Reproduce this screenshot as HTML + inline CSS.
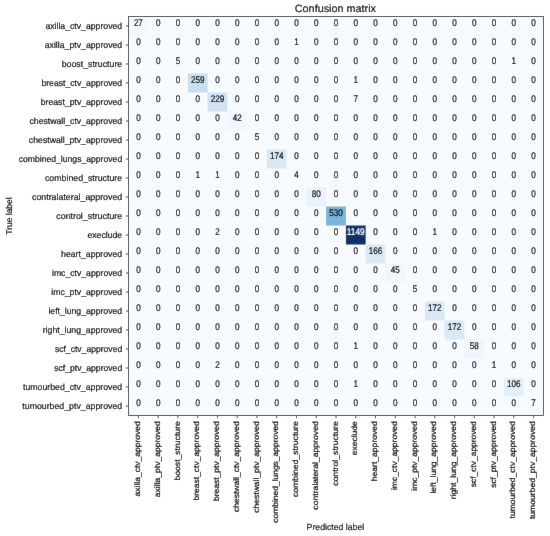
<!DOCTYPE html><html><head><meta charset="utf-8"><style>html,body{margin:0;padding:0;background:#fff;width:550px;height:536px;overflow:hidden}svg{display:block}text{font-family:"Liberation Sans",sans-serif;text-rendering:geometricPrecision}</style></head><body>
<svg width="550" height="536" viewBox="0 0 550 536">
<defs><filter id="bl" x="0" y="0" width="550" height="536" filterUnits="userSpaceOnUse"><feConvolveMatrix order="3" kernelMatrix="0.00163 0.03713 0.00163 0.03713 0.84497 0.03713 0.00163 0.03713 0.00163" edgeMode="duplicate" preserveAlpha="true"/></filter></defs>
<g filter="url(#bl)">
<rect width="550" height="536" fill="#fff"/>
<rect x="128.50" y="16.50" width="415.00" height="399.00" fill="#f7fbff"/>
<rect x="128.50" y="16.50" width="19.78" height="19.02" fill="#f2f8fd"/>
<rect x="168.02" y="54.50" width="19.78" height="19.02" fill="#f6faff"/>
<rect x="187.79" y="73.50" width="19.78" height="19.02" fill="#cbdef1"/>
<rect x="207.55" y="92.50" width="19.78" height="19.02" fill="#d0e1f2"/>
<rect x="345.88" y="92.50" width="19.78" height="19.02" fill="#f6faff"/>
<rect x="227.31" y="111.50" width="19.78" height="19.02" fill="#f0f6fd"/>
<rect x="247.07" y="130.50" width="19.78" height="19.02" fill="#f6faff"/>
<rect x="266.83" y="149.50" width="19.78" height="19.02" fill="#d9e8f5"/>
<rect x="306.36" y="187.50" width="19.78" height="19.02" fill="#eaf2fb"/>
<rect x="326.12" y="206.50" width="19.78" height="19.02" fill="#7ab6d9"/>
<rect x="345.88" y="225.50" width="19.78" height="19.02" fill="#08306b"/>
<rect x="365.64" y="244.50" width="19.78" height="19.02" fill="#dbe9f6"/>
<rect x="385.40" y="263.50" width="19.78" height="19.02" fill="#eff6fc"/>
<rect x="405.17" y="282.50" width="19.78" height="19.02" fill="#f6faff"/>
<rect x="424.93" y="301.50" width="19.78" height="19.02" fill="#d9e8f5"/>
<rect x="444.69" y="320.50" width="19.78" height="19.02" fill="#d9e8f5"/>
<rect x="464.45" y="339.50" width="19.78" height="19.02" fill="#eef5fc"/>
<rect x="503.98" y="377.50" width="19.78" height="19.02" fill="#e5eff9"/>
<rect x="523.74" y="396.50" width="19.78" height="19.02" fill="#f6faff"/>
<g font-size="9.70" text-anchor="middle" fill="#000" stroke="#000" stroke-width="0.20">
<text x="138.38" y="25.70" textLength="9.00" lengthAdjust="spacingAndGlyphs">27</text>
<text x="158.14" y="25.70" textLength="4.50" lengthAdjust="spacingAndGlyphs">0</text>
<text x="177.90" y="25.70" textLength="4.50" lengthAdjust="spacingAndGlyphs">0</text>
<text x="197.67" y="25.70" textLength="4.50" lengthAdjust="spacingAndGlyphs">0</text>
<text x="217.43" y="25.70" textLength="4.50" lengthAdjust="spacingAndGlyphs">0</text>
<text x="237.19" y="25.70" textLength="4.50" lengthAdjust="spacingAndGlyphs">0</text>
<text x="256.95" y="25.70" textLength="4.50" lengthAdjust="spacingAndGlyphs">0</text>
<text x="276.71" y="25.70" textLength="4.50" lengthAdjust="spacingAndGlyphs">0</text>
<text x="296.48" y="25.70" textLength="4.50" lengthAdjust="spacingAndGlyphs">0</text>
<text x="316.24" y="25.70" textLength="4.50" lengthAdjust="spacingAndGlyphs">0</text>
<text x="336.00" y="25.70" textLength="4.50" lengthAdjust="spacingAndGlyphs">0</text>
<text x="355.76" y="25.70" textLength="4.50" lengthAdjust="spacingAndGlyphs">0</text>
<text x="375.52" y="25.70" textLength="4.50" lengthAdjust="spacingAndGlyphs">0</text>
<text x="395.29" y="25.70" textLength="4.50" lengthAdjust="spacingAndGlyphs">0</text>
<text x="415.05" y="25.70" textLength="4.50" lengthAdjust="spacingAndGlyphs">0</text>
<text x="434.81" y="25.70" textLength="4.50" lengthAdjust="spacingAndGlyphs">0</text>
<text x="454.57" y="25.70" textLength="4.50" lengthAdjust="spacingAndGlyphs">0</text>
<text x="474.33" y="25.70" textLength="4.50" lengthAdjust="spacingAndGlyphs">0</text>
<text x="494.10" y="25.70" textLength="4.50" lengthAdjust="spacingAndGlyphs">0</text>
<text x="513.86" y="25.70" textLength="4.50" lengthAdjust="spacingAndGlyphs">0</text>
<text x="533.62" y="25.70" textLength="4.50" lengthAdjust="spacingAndGlyphs">0</text>
<text x="138.38" y="44.70" textLength="4.50" lengthAdjust="spacingAndGlyphs">0</text>
<text x="158.14" y="44.70" textLength="4.50" lengthAdjust="spacingAndGlyphs">0</text>
<text x="177.90" y="44.70" textLength="4.50" lengthAdjust="spacingAndGlyphs">0</text>
<text x="197.67" y="44.70" textLength="4.50" lengthAdjust="spacingAndGlyphs">0</text>
<text x="217.43" y="44.70" textLength="4.50" lengthAdjust="spacingAndGlyphs">0</text>
<text x="237.19" y="44.70" textLength="4.50" lengthAdjust="spacingAndGlyphs">0</text>
<text x="256.95" y="44.70" textLength="4.50" lengthAdjust="spacingAndGlyphs">0</text>
<text x="276.71" y="44.70" textLength="4.50" lengthAdjust="spacingAndGlyphs">0</text>
<text x="296.48" y="44.70" textLength="4.50" lengthAdjust="spacingAndGlyphs">1</text>
<text x="316.24" y="44.70" textLength="4.50" lengthAdjust="spacingAndGlyphs">0</text>
<text x="336.00" y="44.70" textLength="4.50" lengthAdjust="spacingAndGlyphs">0</text>
<text x="355.76" y="44.70" textLength="4.50" lengthAdjust="spacingAndGlyphs">0</text>
<text x="375.52" y="44.70" textLength="4.50" lengthAdjust="spacingAndGlyphs">0</text>
<text x="395.29" y="44.70" textLength="4.50" lengthAdjust="spacingAndGlyphs">0</text>
<text x="415.05" y="44.70" textLength="4.50" lengthAdjust="spacingAndGlyphs">0</text>
<text x="434.81" y="44.70" textLength="4.50" lengthAdjust="spacingAndGlyphs">0</text>
<text x="454.57" y="44.70" textLength="4.50" lengthAdjust="spacingAndGlyphs">0</text>
<text x="474.33" y="44.70" textLength="4.50" lengthAdjust="spacingAndGlyphs">0</text>
<text x="494.10" y="44.70" textLength="4.50" lengthAdjust="spacingAndGlyphs">0</text>
<text x="513.86" y="44.70" textLength="4.50" lengthAdjust="spacingAndGlyphs">0</text>
<text x="533.62" y="44.70" textLength="4.50" lengthAdjust="spacingAndGlyphs">0</text>
<text x="138.38" y="63.70" textLength="4.50" lengthAdjust="spacingAndGlyphs">0</text>
<text x="158.14" y="63.70" textLength="4.50" lengthAdjust="spacingAndGlyphs">0</text>
<text x="177.90" y="63.70" textLength="4.50" lengthAdjust="spacingAndGlyphs">5</text>
<text x="197.67" y="63.70" textLength="4.50" lengthAdjust="spacingAndGlyphs">0</text>
<text x="217.43" y="63.70" textLength="4.50" lengthAdjust="spacingAndGlyphs">0</text>
<text x="237.19" y="63.70" textLength="4.50" lengthAdjust="spacingAndGlyphs">0</text>
<text x="256.95" y="63.70" textLength="4.50" lengthAdjust="spacingAndGlyphs">0</text>
<text x="276.71" y="63.70" textLength="4.50" lengthAdjust="spacingAndGlyphs">0</text>
<text x="296.48" y="63.70" textLength="4.50" lengthAdjust="spacingAndGlyphs">0</text>
<text x="316.24" y="63.70" textLength="4.50" lengthAdjust="spacingAndGlyphs">0</text>
<text x="336.00" y="63.70" textLength="4.50" lengthAdjust="spacingAndGlyphs">0</text>
<text x="355.76" y="63.70" textLength="4.50" lengthAdjust="spacingAndGlyphs">0</text>
<text x="375.52" y="63.70" textLength="4.50" lengthAdjust="spacingAndGlyphs">0</text>
<text x="395.29" y="63.70" textLength="4.50" lengthAdjust="spacingAndGlyphs">0</text>
<text x="415.05" y="63.70" textLength="4.50" lengthAdjust="spacingAndGlyphs">0</text>
<text x="434.81" y="63.70" textLength="4.50" lengthAdjust="spacingAndGlyphs">0</text>
<text x="454.57" y="63.70" textLength="4.50" lengthAdjust="spacingAndGlyphs">0</text>
<text x="474.33" y="63.70" textLength="4.50" lengthAdjust="spacingAndGlyphs">0</text>
<text x="494.10" y="63.70" textLength="4.50" lengthAdjust="spacingAndGlyphs">0</text>
<text x="513.86" y="63.70" textLength="4.50" lengthAdjust="spacingAndGlyphs">1</text>
<text x="533.62" y="63.70" textLength="4.50" lengthAdjust="spacingAndGlyphs">0</text>
<text x="138.38" y="82.70" textLength="4.50" lengthAdjust="spacingAndGlyphs">0</text>
<text x="158.14" y="82.70" textLength="4.50" lengthAdjust="spacingAndGlyphs">0</text>
<text x="177.90" y="82.70" textLength="4.50" lengthAdjust="spacingAndGlyphs">0</text>
<text x="197.67" y="82.70" textLength="13.50" lengthAdjust="spacingAndGlyphs">259</text>
<text x="217.43" y="82.70" textLength="4.50" lengthAdjust="spacingAndGlyphs">0</text>
<text x="237.19" y="82.70" textLength="4.50" lengthAdjust="spacingAndGlyphs">0</text>
<text x="256.95" y="82.70" textLength="4.50" lengthAdjust="spacingAndGlyphs">0</text>
<text x="276.71" y="82.70" textLength="4.50" lengthAdjust="spacingAndGlyphs">0</text>
<text x="296.48" y="82.70" textLength="4.50" lengthAdjust="spacingAndGlyphs">0</text>
<text x="316.24" y="82.70" textLength="4.50" lengthAdjust="spacingAndGlyphs">0</text>
<text x="336.00" y="82.70" textLength="4.50" lengthAdjust="spacingAndGlyphs">0</text>
<text x="355.76" y="82.70" textLength="4.50" lengthAdjust="spacingAndGlyphs">1</text>
<text x="375.52" y="82.70" textLength="4.50" lengthAdjust="spacingAndGlyphs">0</text>
<text x="395.29" y="82.70" textLength="4.50" lengthAdjust="spacingAndGlyphs">0</text>
<text x="415.05" y="82.70" textLength="4.50" lengthAdjust="spacingAndGlyphs">0</text>
<text x="434.81" y="82.70" textLength="4.50" lengthAdjust="spacingAndGlyphs">0</text>
<text x="454.57" y="82.70" textLength="4.50" lengthAdjust="spacingAndGlyphs">0</text>
<text x="474.33" y="82.70" textLength="4.50" lengthAdjust="spacingAndGlyphs">0</text>
<text x="494.10" y="82.70" textLength="4.50" lengthAdjust="spacingAndGlyphs">0</text>
<text x="513.86" y="82.70" textLength="4.50" lengthAdjust="spacingAndGlyphs">0</text>
<text x="533.62" y="82.70" textLength="4.50" lengthAdjust="spacingAndGlyphs">0</text>
<text x="138.38" y="101.70" textLength="4.50" lengthAdjust="spacingAndGlyphs">0</text>
<text x="158.14" y="101.70" textLength="4.50" lengthAdjust="spacingAndGlyphs">0</text>
<text x="177.90" y="101.70" textLength="4.50" lengthAdjust="spacingAndGlyphs">0</text>
<text x="197.67" y="101.70" textLength="4.50" lengthAdjust="spacingAndGlyphs">0</text>
<text x="217.43" y="101.70" textLength="13.50" lengthAdjust="spacingAndGlyphs">229</text>
<text x="237.19" y="101.70" textLength="4.50" lengthAdjust="spacingAndGlyphs">0</text>
<text x="256.95" y="101.70" textLength="4.50" lengthAdjust="spacingAndGlyphs">0</text>
<text x="276.71" y="101.70" textLength="4.50" lengthAdjust="spacingAndGlyphs">0</text>
<text x="296.48" y="101.70" textLength="4.50" lengthAdjust="spacingAndGlyphs">0</text>
<text x="316.24" y="101.70" textLength="4.50" lengthAdjust="spacingAndGlyphs">0</text>
<text x="336.00" y="101.70" textLength="4.50" lengthAdjust="spacingAndGlyphs">0</text>
<text x="355.76" y="101.70" textLength="4.50" lengthAdjust="spacingAndGlyphs">7</text>
<text x="375.52" y="101.70" textLength="4.50" lengthAdjust="spacingAndGlyphs">0</text>
<text x="395.29" y="101.70" textLength="4.50" lengthAdjust="spacingAndGlyphs">0</text>
<text x="415.05" y="101.70" textLength="4.50" lengthAdjust="spacingAndGlyphs">0</text>
<text x="434.81" y="101.70" textLength="4.50" lengthAdjust="spacingAndGlyphs">0</text>
<text x="454.57" y="101.70" textLength="4.50" lengthAdjust="spacingAndGlyphs">0</text>
<text x="474.33" y="101.70" textLength="4.50" lengthAdjust="spacingAndGlyphs">0</text>
<text x="494.10" y="101.70" textLength="4.50" lengthAdjust="spacingAndGlyphs">0</text>
<text x="513.86" y="101.70" textLength="4.50" lengthAdjust="spacingAndGlyphs">0</text>
<text x="533.62" y="101.70" textLength="4.50" lengthAdjust="spacingAndGlyphs">0</text>
<text x="138.38" y="120.70" textLength="4.50" lengthAdjust="spacingAndGlyphs">0</text>
<text x="158.14" y="120.70" textLength="4.50" lengthAdjust="spacingAndGlyphs">0</text>
<text x="177.90" y="120.70" textLength="4.50" lengthAdjust="spacingAndGlyphs">0</text>
<text x="197.67" y="120.70" textLength="4.50" lengthAdjust="spacingAndGlyphs">0</text>
<text x="217.43" y="120.70" textLength="4.50" lengthAdjust="spacingAndGlyphs">0</text>
<text x="237.19" y="120.70" textLength="9.00" lengthAdjust="spacingAndGlyphs">42</text>
<text x="256.95" y="120.70" textLength="4.50" lengthAdjust="spacingAndGlyphs">0</text>
<text x="276.71" y="120.70" textLength="4.50" lengthAdjust="spacingAndGlyphs">0</text>
<text x="296.48" y="120.70" textLength="4.50" lengthAdjust="spacingAndGlyphs">0</text>
<text x="316.24" y="120.70" textLength="4.50" lengthAdjust="spacingAndGlyphs">0</text>
<text x="336.00" y="120.70" textLength="4.50" lengthAdjust="spacingAndGlyphs">0</text>
<text x="355.76" y="120.70" textLength="4.50" lengthAdjust="spacingAndGlyphs">0</text>
<text x="375.52" y="120.70" textLength="4.50" lengthAdjust="spacingAndGlyphs">0</text>
<text x="395.29" y="120.70" textLength="4.50" lengthAdjust="spacingAndGlyphs">0</text>
<text x="415.05" y="120.70" textLength="4.50" lengthAdjust="spacingAndGlyphs">0</text>
<text x="434.81" y="120.70" textLength="4.50" lengthAdjust="spacingAndGlyphs">0</text>
<text x="454.57" y="120.70" textLength="4.50" lengthAdjust="spacingAndGlyphs">0</text>
<text x="474.33" y="120.70" textLength="4.50" lengthAdjust="spacingAndGlyphs">0</text>
<text x="494.10" y="120.70" textLength="4.50" lengthAdjust="spacingAndGlyphs">0</text>
<text x="513.86" y="120.70" textLength="4.50" lengthAdjust="spacingAndGlyphs">0</text>
<text x="533.62" y="120.70" textLength="4.50" lengthAdjust="spacingAndGlyphs">0</text>
<text x="138.38" y="139.70" textLength="4.50" lengthAdjust="spacingAndGlyphs">0</text>
<text x="158.14" y="139.70" textLength="4.50" lengthAdjust="spacingAndGlyphs">0</text>
<text x="177.90" y="139.70" textLength="4.50" lengthAdjust="spacingAndGlyphs">0</text>
<text x="197.67" y="139.70" textLength="4.50" lengthAdjust="spacingAndGlyphs">0</text>
<text x="217.43" y="139.70" textLength="4.50" lengthAdjust="spacingAndGlyphs">0</text>
<text x="237.19" y="139.70" textLength="4.50" lengthAdjust="spacingAndGlyphs">0</text>
<text x="256.95" y="139.70" textLength="4.50" lengthAdjust="spacingAndGlyphs">5</text>
<text x="276.71" y="139.70" textLength="4.50" lengthAdjust="spacingAndGlyphs">0</text>
<text x="296.48" y="139.70" textLength="4.50" lengthAdjust="spacingAndGlyphs">0</text>
<text x="316.24" y="139.70" textLength="4.50" lengthAdjust="spacingAndGlyphs">0</text>
<text x="336.00" y="139.70" textLength="4.50" lengthAdjust="spacingAndGlyphs">0</text>
<text x="355.76" y="139.70" textLength="4.50" lengthAdjust="spacingAndGlyphs">0</text>
<text x="375.52" y="139.70" textLength="4.50" lengthAdjust="spacingAndGlyphs">0</text>
<text x="395.29" y="139.70" textLength="4.50" lengthAdjust="spacingAndGlyphs">0</text>
<text x="415.05" y="139.70" textLength="4.50" lengthAdjust="spacingAndGlyphs">0</text>
<text x="434.81" y="139.70" textLength="4.50" lengthAdjust="spacingAndGlyphs">0</text>
<text x="454.57" y="139.70" textLength="4.50" lengthAdjust="spacingAndGlyphs">0</text>
<text x="474.33" y="139.70" textLength="4.50" lengthAdjust="spacingAndGlyphs">0</text>
<text x="494.10" y="139.70" textLength="4.50" lengthAdjust="spacingAndGlyphs">0</text>
<text x="513.86" y="139.70" textLength="4.50" lengthAdjust="spacingAndGlyphs">0</text>
<text x="533.62" y="139.70" textLength="4.50" lengthAdjust="spacingAndGlyphs">0</text>
<text x="138.38" y="158.70" textLength="4.50" lengthAdjust="spacingAndGlyphs">0</text>
<text x="158.14" y="158.70" textLength="4.50" lengthAdjust="spacingAndGlyphs">0</text>
<text x="177.90" y="158.70" textLength="4.50" lengthAdjust="spacingAndGlyphs">0</text>
<text x="197.67" y="158.70" textLength="4.50" lengthAdjust="spacingAndGlyphs">0</text>
<text x="217.43" y="158.70" textLength="4.50" lengthAdjust="spacingAndGlyphs">0</text>
<text x="237.19" y="158.70" textLength="4.50" lengthAdjust="spacingAndGlyphs">0</text>
<text x="256.95" y="158.70" textLength="4.50" lengthAdjust="spacingAndGlyphs">0</text>
<text x="276.71" y="158.70" textLength="13.50" lengthAdjust="spacingAndGlyphs">174</text>
<text x="296.48" y="158.70" textLength="4.50" lengthAdjust="spacingAndGlyphs">0</text>
<text x="316.24" y="158.70" textLength="4.50" lengthAdjust="spacingAndGlyphs">0</text>
<text x="336.00" y="158.70" textLength="4.50" lengthAdjust="spacingAndGlyphs">0</text>
<text x="355.76" y="158.70" textLength="4.50" lengthAdjust="spacingAndGlyphs">0</text>
<text x="375.52" y="158.70" textLength="4.50" lengthAdjust="spacingAndGlyphs">0</text>
<text x="395.29" y="158.70" textLength="4.50" lengthAdjust="spacingAndGlyphs">0</text>
<text x="415.05" y="158.70" textLength="4.50" lengthAdjust="spacingAndGlyphs">0</text>
<text x="434.81" y="158.70" textLength="4.50" lengthAdjust="spacingAndGlyphs">0</text>
<text x="454.57" y="158.70" textLength="4.50" lengthAdjust="spacingAndGlyphs">0</text>
<text x="474.33" y="158.70" textLength="4.50" lengthAdjust="spacingAndGlyphs">0</text>
<text x="494.10" y="158.70" textLength="4.50" lengthAdjust="spacingAndGlyphs">0</text>
<text x="513.86" y="158.70" textLength="4.50" lengthAdjust="spacingAndGlyphs">0</text>
<text x="533.62" y="158.70" textLength="4.50" lengthAdjust="spacingAndGlyphs">0</text>
<text x="138.38" y="177.70" textLength="4.50" lengthAdjust="spacingAndGlyphs">0</text>
<text x="158.14" y="177.70" textLength="4.50" lengthAdjust="spacingAndGlyphs">0</text>
<text x="177.90" y="177.70" textLength="4.50" lengthAdjust="spacingAndGlyphs">0</text>
<text x="197.67" y="177.70" textLength="4.50" lengthAdjust="spacingAndGlyphs">1</text>
<text x="217.43" y="177.70" textLength="4.50" lengthAdjust="spacingAndGlyphs">1</text>
<text x="237.19" y="177.70" textLength="4.50" lengthAdjust="spacingAndGlyphs">0</text>
<text x="256.95" y="177.70" textLength="4.50" lengthAdjust="spacingAndGlyphs">0</text>
<text x="276.71" y="177.70" textLength="4.50" lengthAdjust="spacingAndGlyphs">0</text>
<text x="296.48" y="177.70" textLength="4.50" lengthAdjust="spacingAndGlyphs">4</text>
<text x="316.24" y="177.70" textLength="4.50" lengthAdjust="spacingAndGlyphs">0</text>
<text x="336.00" y="177.70" textLength="4.50" lengthAdjust="spacingAndGlyphs">0</text>
<text x="355.76" y="177.70" textLength="4.50" lengthAdjust="spacingAndGlyphs">0</text>
<text x="375.52" y="177.70" textLength="4.50" lengthAdjust="spacingAndGlyphs">0</text>
<text x="395.29" y="177.70" textLength="4.50" lengthAdjust="spacingAndGlyphs">0</text>
<text x="415.05" y="177.70" textLength="4.50" lengthAdjust="spacingAndGlyphs">0</text>
<text x="434.81" y="177.70" textLength="4.50" lengthAdjust="spacingAndGlyphs">0</text>
<text x="454.57" y="177.70" textLength="4.50" lengthAdjust="spacingAndGlyphs">0</text>
<text x="474.33" y="177.70" textLength="4.50" lengthAdjust="spacingAndGlyphs">0</text>
<text x="494.10" y="177.70" textLength="4.50" lengthAdjust="spacingAndGlyphs">0</text>
<text x="513.86" y="177.70" textLength="4.50" lengthAdjust="spacingAndGlyphs">0</text>
<text x="533.62" y="177.70" textLength="4.50" lengthAdjust="spacingAndGlyphs">0</text>
<text x="138.38" y="196.70" textLength="4.50" lengthAdjust="spacingAndGlyphs">0</text>
<text x="158.14" y="196.70" textLength="4.50" lengthAdjust="spacingAndGlyphs">0</text>
<text x="177.90" y="196.70" textLength="4.50" lengthAdjust="spacingAndGlyphs">0</text>
<text x="197.67" y="196.70" textLength="4.50" lengthAdjust="spacingAndGlyphs">0</text>
<text x="217.43" y="196.70" textLength="4.50" lengthAdjust="spacingAndGlyphs">0</text>
<text x="237.19" y="196.70" textLength="4.50" lengthAdjust="spacingAndGlyphs">0</text>
<text x="256.95" y="196.70" textLength="4.50" lengthAdjust="spacingAndGlyphs">0</text>
<text x="276.71" y="196.70" textLength="4.50" lengthAdjust="spacingAndGlyphs">0</text>
<text x="296.48" y="196.70" textLength="4.50" lengthAdjust="spacingAndGlyphs">0</text>
<text x="316.24" y="196.70" textLength="9.00" lengthAdjust="spacingAndGlyphs">80</text>
<text x="336.00" y="196.70" textLength="4.50" lengthAdjust="spacingAndGlyphs">0</text>
<text x="355.76" y="196.70" textLength="4.50" lengthAdjust="spacingAndGlyphs">0</text>
<text x="375.52" y="196.70" textLength="4.50" lengthAdjust="spacingAndGlyphs">0</text>
<text x="395.29" y="196.70" textLength="4.50" lengthAdjust="spacingAndGlyphs">0</text>
<text x="415.05" y="196.70" textLength="4.50" lengthAdjust="spacingAndGlyphs">0</text>
<text x="434.81" y="196.70" textLength="4.50" lengthAdjust="spacingAndGlyphs">0</text>
<text x="454.57" y="196.70" textLength="4.50" lengthAdjust="spacingAndGlyphs">0</text>
<text x="474.33" y="196.70" textLength="4.50" lengthAdjust="spacingAndGlyphs">0</text>
<text x="494.10" y="196.70" textLength="4.50" lengthAdjust="spacingAndGlyphs">0</text>
<text x="513.86" y="196.70" textLength="4.50" lengthAdjust="spacingAndGlyphs">0</text>
<text x="533.62" y="196.70" textLength="4.50" lengthAdjust="spacingAndGlyphs">0</text>
<text x="138.38" y="215.70" textLength="4.50" lengthAdjust="spacingAndGlyphs">0</text>
<text x="158.14" y="215.70" textLength="4.50" lengthAdjust="spacingAndGlyphs">0</text>
<text x="177.90" y="215.70" textLength="4.50" lengthAdjust="spacingAndGlyphs">0</text>
<text x="197.67" y="215.70" textLength="4.50" lengthAdjust="spacingAndGlyphs">0</text>
<text x="217.43" y="215.70" textLength="4.50" lengthAdjust="spacingAndGlyphs">0</text>
<text x="237.19" y="215.70" textLength="4.50" lengthAdjust="spacingAndGlyphs">0</text>
<text x="256.95" y="215.70" textLength="4.50" lengthAdjust="spacingAndGlyphs">0</text>
<text x="276.71" y="215.70" textLength="4.50" lengthAdjust="spacingAndGlyphs">0</text>
<text x="296.48" y="215.70" textLength="4.50" lengthAdjust="spacingAndGlyphs">0</text>
<text x="316.24" y="215.70" textLength="4.50" lengthAdjust="spacingAndGlyphs">0</text>
<text x="336.00" y="215.70" textLength="13.50" lengthAdjust="spacingAndGlyphs">530</text>
<text x="355.76" y="215.70" textLength="4.50" lengthAdjust="spacingAndGlyphs">0</text>
<text x="375.52" y="215.70" textLength="4.50" lengthAdjust="spacingAndGlyphs">0</text>
<text x="395.29" y="215.70" textLength="4.50" lengthAdjust="spacingAndGlyphs">0</text>
<text x="415.05" y="215.70" textLength="4.50" lengthAdjust="spacingAndGlyphs">0</text>
<text x="434.81" y="215.70" textLength="4.50" lengthAdjust="spacingAndGlyphs">0</text>
<text x="454.57" y="215.70" textLength="4.50" lengthAdjust="spacingAndGlyphs">0</text>
<text x="474.33" y="215.70" textLength="4.50" lengthAdjust="spacingAndGlyphs">0</text>
<text x="494.10" y="215.70" textLength="4.50" lengthAdjust="spacingAndGlyphs">0</text>
<text x="513.86" y="215.70" textLength="4.50" lengthAdjust="spacingAndGlyphs">0</text>
<text x="533.62" y="215.70" textLength="4.50" lengthAdjust="spacingAndGlyphs">0</text>
<text x="138.38" y="234.70" textLength="4.50" lengthAdjust="spacingAndGlyphs">0</text>
<text x="158.14" y="234.70" textLength="4.50" lengthAdjust="spacingAndGlyphs">0</text>
<text x="177.90" y="234.70" textLength="4.50" lengthAdjust="spacingAndGlyphs">0</text>
<text x="197.67" y="234.70" textLength="4.50" lengthAdjust="spacingAndGlyphs">0</text>
<text x="217.43" y="234.70" textLength="4.50" lengthAdjust="spacingAndGlyphs">2</text>
<text x="237.19" y="234.70" textLength="4.50" lengthAdjust="spacingAndGlyphs">0</text>
<text x="256.95" y="234.70" textLength="4.50" lengthAdjust="spacingAndGlyphs">0</text>
<text x="276.71" y="234.70" textLength="4.50" lengthAdjust="spacingAndGlyphs">0</text>
<text x="296.48" y="234.70" textLength="4.50" lengthAdjust="spacingAndGlyphs">0</text>
<text x="316.24" y="234.70" textLength="4.50" lengthAdjust="spacingAndGlyphs">0</text>
<text x="336.00" y="234.70" textLength="4.50" lengthAdjust="spacingAndGlyphs">0</text>
<text x="355.76" y="234.70" textLength="18.00" lengthAdjust="spacingAndGlyphs" fill="#fff" stroke="#fff">1149</text>
<text x="375.52" y="234.70" textLength="4.50" lengthAdjust="spacingAndGlyphs">0</text>
<text x="395.29" y="234.70" textLength="4.50" lengthAdjust="spacingAndGlyphs">0</text>
<text x="415.05" y="234.70" textLength="4.50" lengthAdjust="spacingAndGlyphs">0</text>
<text x="434.81" y="234.70" textLength="4.50" lengthAdjust="spacingAndGlyphs">1</text>
<text x="454.57" y="234.70" textLength="4.50" lengthAdjust="spacingAndGlyphs">0</text>
<text x="474.33" y="234.70" textLength="4.50" lengthAdjust="spacingAndGlyphs">0</text>
<text x="494.10" y="234.70" textLength="4.50" lengthAdjust="spacingAndGlyphs">0</text>
<text x="513.86" y="234.70" textLength="4.50" lengthAdjust="spacingAndGlyphs">0</text>
<text x="533.62" y="234.70" textLength="4.50" lengthAdjust="spacingAndGlyphs">0</text>
<text x="138.38" y="253.70" textLength="4.50" lengthAdjust="spacingAndGlyphs">0</text>
<text x="158.14" y="253.70" textLength="4.50" lengthAdjust="spacingAndGlyphs">0</text>
<text x="177.90" y="253.70" textLength="4.50" lengthAdjust="spacingAndGlyphs">0</text>
<text x="197.67" y="253.70" textLength="4.50" lengthAdjust="spacingAndGlyphs">0</text>
<text x="217.43" y="253.70" textLength="4.50" lengthAdjust="spacingAndGlyphs">0</text>
<text x="237.19" y="253.70" textLength="4.50" lengthAdjust="spacingAndGlyphs">0</text>
<text x="256.95" y="253.70" textLength="4.50" lengthAdjust="spacingAndGlyphs">0</text>
<text x="276.71" y="253.70" textLength="4.50" lengthAdjust="spacingAndGlyphs">0</text>
<text x="296.48" y="253.70" textLength="4.50" lengthAdjust="spacingAndGlyphs">0</text>
<text x="316.24" y="253.70" textLength="4.50" lengthAdjust="spacingAndGlyphs">0</text>
<text x="336.00" y="253.70" textLength="4.50" lengthAdjust="spacingAndGlyphs">0</text>
<text x="355.76" y="253.70" textLength="4.50" lengthAdjust="spacingAndGlyphs">0</text>
<text x="375.52" y="253.70" textLength="13.50" lengthAdjust="spacingAndGlyphs">166</text>
<text x="395.29" y="253.70" textLength="4.50" lengthAdjust="spacingAndGlyphs">0</text>
<text x="415.05" y="253.70" textLength="4.50" lengthAdjust="spacingAndGlyphs">0</text>
<text x="434.81" y="253.70" textLength="4.50" lengthAdjust="spacingAndGlyphs">0</text>
<text x="454.57" y="253.70" textLength="4.50" lengthAdjust="spacingAndGlyphs">0</text>
<text x="474.33" y="253.70" textLength="4.50" lengthAdjust="spacingAndGlyphs">0</text>
<text x="494.10" y="253.70" textLength="4.50" lengthAdjust="spacingAndGlyphs">0</text>
<text x="513.86" y="253.70" textLength="4.50" lengthAdjust="spacingAndGlyphs">0</text>
<text x="533.62" y="253.70" textLength="4.50" lengthAdjust="spacingAndGlyphs">0</text>
<text x="138.38" y="272.70" textLength="4.50" lengthAdjust="spacingAndGlyphs">0</text>
<text x="158.14" y="272.70" textLength="4.50" lengthAdjust="spacingAndGlyphs">0</text>
<text x="177.90" y="272.70" textLength="4.50" lengthAdjust="spacingAndGlyphs">0</text>
<text x="197.67" y="272.70" textLength="4.50" lengthAdjust="spacingAndGlyphs">0</text>
<text x="217.43" y="272.70" textLength="4.50" lengthAdjust="spacingAndGlyphs">0</text>
<text x="237.19" y="272.70" textLength="4.50" lengthAdjust="spacingAndGlyphs">0</text>
<text x="256.95" y="272.70" textLength="4.50" lengthAdjust="spacingAndGlyphs">0</text>
<text x="276.71" y="272.70" textLength="4.50" lengthAdjust="spacingAndGlyphs">0</text>
<text x="296.48" y="272.70" textLength="4.50" lengthAdjust="spacingAndGlyphs">0</text>
<text x="316.24" y="272.70" textLength="4.50" lengthAdjust="spacingAndGlyphs">0</text>
<text x="336.00" y="272.70" textLength="4.50" lengthAdjust="spacingAndGlyphs">0</text>
<text x="355.76" y="272.70" textLength="4.50" lengthAdjust="spacingAndGlyphs">0</text>
<text x="375.52" y="272.70" textLength="4.50" lengthAdjust="spacingAndGlyphs">0</text>
<text x="395.29" y="272.70" textLength="9.00" lengthAdjust="spacingAndGlyphs">45</text>
<text x="415.05" y="272.70" textLength="4.50" lengthAdjust="spacingAndGlyphs">0</text>
<text x="434.81" y="272.70" textLength="4.50" lengthAdjust="spacingAndGlyphs">0</text>
<text x="454.57" y="272.70" textLength="4.50" lengthAdjust="spacingAndGlyphs">0</text>
<text x="474.33" y="272.70" textLength="4.50" lengthAdjust="spacingAndGlyphs">0</text>
<text x="494.10" y="272.70" textLength="4.50" lengthAdjust="spacingAndGlyphs">0</text>
<text x="513.86" y="272.70" textLength="4.50" lengthAdjust="spacingAndGlyphs">0</text>
<text x="533.62" y="272.70" textLength="4.50" lengthAdjust="spacingAndGlyphs">0</text>
<text x="138.38" y="291.70" textLength="4.50" lengthAdjust="spacingAndGlyphs">0</text>
<text x="158.14" y="291.70" textLength="4.50" lengthAdjust="spacingAndGlyphs">0</text>
<text x="177.90" y="291.70" textLength="4.50" lengthAdjust="spacingAndGlyphs">0</text>
<text x="197.67" y="291.70" textLength="4.50" lengthAdjust="spacingAndGlyphs">0</text>
<text x="217.43" y="291.70" textLength="4.50" lengthAdjust="spacingAndGlyphs">0</text>
<text x="237.19" y="291.70" textLength="4.50" lengthAdjust="spacingAndGlyphs">0</text>
<text x="256.95" y="291.70" textLength="4.50" lengthAdjust="spacingAndGlyphs">0</text>
<text x="276.71" y="291.70" textLength="4.50" lengthAdjust="spacingAndGlyphs">0</text>
<text x="296.48" y="291.70" textLength="4.50" lengthAdjust="spacingAndGlyphs">0</text>
<text x="316.24" y="291.70" textLength="4.50" lengthAdjust="spacingAndGlyphs">0</text>
<text x="336.00" y="291.70" textLength="4.50" lengthAdjust="spacingAndGlyphs">0</text>
<text x="355.76" y="291.70" textLength="4.50" lengthAdjust="spacingAndGlyphs">0</text>
<text x="375.52" y="291.70" textLength="4.50" lengthAdjust="spacingAndGlyphs">0</text>
<text x="395.29" y="291.70" textLength="4.50" lengthAdjust="spacingAndGlyphs">0</text>
<text x="415.05" y="291.70" textLength="4.50" lengthAdjust="spacingAndGlyphs">5</text>
<text x="434.81" y="291.70" textLength="4.50" lengthAdjust="spacingAndGlyphs">0</text>
<text x="454.57" y="291.70" textLength="4.50" lengthAdjust="spacingAndGlyphs">0</text>
<text x="474.33" y="291.70" textLength="4.50" lengthAdjust="spacingAndGlyphs">0</text>
<text x="494.10" y="291.70" textLength="4.50" lengthAdjust="spacingAndGlyphs">0</text>
<text x="513.86" y="291.70" textLength="4.50" lengthAdjust="spacingAndGlyphs">0</text>
<text x="533.62" y="291.70" textLength="4.50" lengthAdjust="spacingAndGlyphs">0</text>
<text x="138.38" y="310.70" textLength="4.50" lengthAdjust="spacingAndGlyphs">0</text>
<text x="158.14" y="310.70" textLength="4.50" lengthAdjust="spacingAndGlyphs">0</text>
<text x="177.90" y="310.70" textLength="4.50" lengthAdjust="spacingAndGlyphs">0</text>
<text x="197.67" y="310.70" textLength="4.50" lengthAdjust="spacingAndGlyphs">0</text>
<text x="217.43" y="310.70" textLength="4.50" lengthAdjust="spacingAndGlyphs">0</text>
<text x="237.19" y="310.70" textLength="4.50" lengthAdjust="spacingAndGlyphs">0</text>
<text x="256.95" y="310.70" textLength="4.50" lengthAdjust="spacingAndGlyphs">0</text>
<text x="276.71" y="310.70" textLength="4.50" lengthAdjust="spacingAndGlyphs">0</text>
<text x="296.48" y="310.70" textLength="4.50" lengthAdjust="spacingAndGlyphs">0</text>
<text x="316.24" y="310.70" textLength="4.50" lengthAdjust="spacingAndGlyphs">0</text>
<text x="336.00" y="310.70" textLength="4.50" lengthAdjust="spacingAndGlyphs">0</text>
<text x="355.76" y="310.70" textLength="4.50" lengthAdjust="spacingAndGlyphs">0</text>
<text x="375.52" y="310.70" textLength="4.50" lengthAdjust="spacingAndGlyphs">0</text>
<text x="395.29" y="310.70" textLength="4.50" lengthAdjust="spacingAndGlyphs">0</text>
<text x="415.05" y="310.70" textLength="4.50" lengthAdjust="spacingAndGlyphs">0</text>
<text x="434.81" y="310.70" textLength="13.50" lengthAdjust="spacingAndGlyphs">172</text>
<text x="454.57" y="310.70" textLength="4.50" lengthAdjust="spacingAndGlyphs">0</text>
<text x="474.33" y="310.70" textLength="4.50" lengthAdjust="spacingAndGlyphs">0</text>
<text x="494.10" y="310.70" textLength="4.50" lengthAdjust="spacingAndGlyphs">0</text>
<text x="513.86" y="310.70" textLength="4.50" lengthAdjust="spacingAndGlyphs">0</text>
<text x="533.62" y="310.70" textLength="4.50" lengthAdjust="spacingAndGlyphs">0</text>
<text x="138.38" y="329.70" textLength="4.50" lengthAdjust="spacingAndGlyphs">0</text>
<text x="158.14" y="329.70" textLength="4.50" lengthAdjust="spacingAndGlyphs">0</text>
<text x="177.90" y="329.70" textLength="4.50" lengthAdjust="spacingAndGlyphs">0</text>
<text x="197.67" y="329.70" textLength="4.50" lengthAdjust="spacingAndGlyphs">0</text>
<text x="217.43" y="329.70" textLength="4.50" lengthAdjust="spacingAndGlyphs">0</text>
<text x="237.19" y="329.70" textLength="4.50" lengthAdjust="spacingAndGlyphs">0</text>
<text x="256.95" y="329.70" textLength="4.50" lengthAdjust="spacingAndGlyphs">0</text>
<text x="276.71" y="329.70" textLength="4.50" lengthAdjust="spacingAndGlyphs">0</text>
<text x="296.48" y="329.70" textLength="4.50" lengthAdjust="spacingAndGlyphs">0</text>
<text x="316.24" y="329.70" textLength="4.50" lengthAdjust="spacingAndGlyphs">0</text>
<text x="336.00" y="329.70" textLength="4.50" lengthAdjust="spacingAndGlyphs">0</text>
<text x="355.76" y="329.70" textLength="4.50" lengthAdjust="spacingAndGlyphs">0</text>
<text x="375.52" y="329.70" textLength="4.50" lengthAdjust="spacingAndGlyphs">0</text>
<text x="395.29" y="329.70" textLength="4.50" lengthAdjust="spacingAndGlyphs">0</text>
<text x="415.05" y="329.70" textLength="4.50" lengthAdjust="spacingAndGlyphs">0</text>
<text x="434.81" y="329.70" textLength="4.50" lengthAdjust="spacingAndGlyphs">0</text>
<text x="454.57" y="329.70" textLength="13.50" lengthAdjust="spacingAndGlyphs">172</text>
<text x="474.33" y="329.70" textLength="4.50" lengthAdjust="spacingAndGlyphs">0</text>
<text x="494.10" y="329.70" textLength="4.50" lengthAdjust="spacingAndGlyphs">0</text>
<text x="513.86" y="329.70" textLength="4.50" lengthAdjust="spacingAndGlyphs">0</text>
<text x="533.62" y="329.70" textLength="4.50" lengthAdjust="spacingAndGlyphs">0</text>
<text x="138.38" y="348.70" textLength="4.50" lengthAdjust="spacingAndGlyphs">0</text>
<text x="158.14" y="348.70" textLength="4.50" lengthAdjust="spacingAndGlyphs">0</text>
<text x="177.90" y="348.70" textLength="4.50" lengthAdjust="spacingAndGlyphs">0</text>
<text x="197.67" y="348.70" textLength="4.50" lengthAdjust="spacingAndGlyphs">0</text>
<text x="217.43" y="348.70" textLength="4.50" lengthAdjust="spacingAndGlyphs">0</text>
<text x="237.19" y="348.70" textLength="4.50" lengthAdjust="spacingAndGlyphs">0</text>
<text x="256.95" y="348.70" textLength="4.50" lengthAdjust="spacingAndGlyphs">0</text>
<text x="276.71" y="348.70" textLength="4.50" lengthAdjust="spacingAndGlyphs">0</text>
<text x="296.48" y="348.70" textLength="4.50" lengthAdjust="spacingAndGlyphs">0</text>
<text x="316.24" y="348.70" textLength="4.50" lengthAdjust="spacingAndGlyphs">0</text>
<text x="336.00" y="348.70" textLength="4.50" lengthAdjust="spacingAndGlyphs">0</text>
<text x="355.76" y="348.70" textLength="4.50" lengthAdjust="spacingAndGlyphs">1</text>
<text x="375.52" y="348.70" textLength="4.50" lengthAdjust="spacingAndGlyphs">0</text>
<text x="395.29" y="348.70" textLength="4.50" lengthAdjust="spacingAndGlyphs">0</text>
<text x="415.05" y="348.70" textLength="4.50" lengthAdjust="spacingAndGlyphs">0</text>
<text x="434.81" y="348.70" textLength="4.50" lengthAdjust="spacingAndGlyphs">0</text>
<text x="454.57" y="348.70" textLength="4.50" lengthAdjust="spacingAndGlyphs">0</text>
<text x="474.33" y="348.70" textLength="9.00" lengthAdjust="spacingAndGlyphs">58</text>
<text x="494.10" y="348.70" textLength="4.50" lengthAdjust="spacingAndGlyphs">0</text>
<text x="513.86" y="348.70" textLength="4.50" lengthAdjust="spacingAndGlyphs">0</text>
<text x="533.62" y="348.70" textLength="4.50" lengthAdjust="spacingAndGlyphs">0</text>
<text x="138.38" y="367.70" textLength="4.50" lengthAdjust="spacingAndGlyphs">0</text>
<text x="158.14" y="367.70" textLength="4.50" lengthAdjust="spacingAndGlyphs">0</text>
<text x="177.90" y="367.70" textLength="4.50" lengthAdjust="spacingAndGlyphs">0</text>
<text x="197.67" y="367.70" textLength="4.50" lengthAdjust="spacingAndGlyphs">0</text>
<text x="217.43" y="367.70" textLength="4.50" lengthAdjust="spacingAndGlyphs">2</text>
<text x="237.19" y="367.70" textLength="4.50" lengthAdjust="spacingAndGlyphs">0</text>
<text x="256.95" y="367.70" textLength="4.50" lengthAdjust="spacingAndGlyphs">0</text>
<text x="276.71" y="367.70" textLength="4.50" lengthAdjust="spacingAndGlyphs">0</text>
<text x="296.48" y="367.70" textLength="4.50" lengthAdjust="spacingAndGlyphs">0</text>
<text x="316.24" y="367.70" textLength="4.50" lengthAdjust="spacingAndGlyphs">0</text>
<text x="336.00" y="367.70" textLength="4.50" lengthAdjust="spacingAndGlyphs">0</text>
<text x="355.76" y="367.70" textLength="4.50" lengthAdjust="spacingAndGlyphs">0</text>
<text x="375.52" y="367.70" textLength="4.50" lengthAdjust="spacingAndGlyphs">0</text>
<text x="395.29" y="367.70" textLength="4.50" lengthAdjust="spacingAndGlyphs">0</text>
<text x="415.05" y="367.70" textLength="4.50" lengthAdjust="spacingAndGlyphs">0</text>
<text x="434.81" y="367.70" textLength="4.50" lengthAdjust="spacingAndGlyphs">0</text>
<text x="454.57" y="367.70" textLength="4.50" lengthAdjust="spacingAndGlyphs">0</text>
<text x="474.33" y="367.70" textLength="4.50" lengthAdjust="spacingAndGlyphs">0</text>
<text x="494.10" y="367.70" textLength="4.50" lengthAdjust="spacingAndGlyphs">1</text>
<text x="513.86" y="367.70" textLength="4.50" lengthAdjust="spacingAndGlyphs">0</text>
<text x="533.62" y="367.70" textLength="4.50" lengthAdjust="spacingAndGlyphs">0</text>
<text x="138.38" y="386.70" textLength="4.50" lengthAdjust="spacingAndGlyphs">0</text>
<text x="158.14" y="386.70" textLength="4.50" lengthAdjust="spacingAndGlyphs">0</text>
<text x="177.90" y="386.70" textLength="4.50" lengthAdjust="spacingAndGlyphs">0</text>
<text x="197.67" y="386.70" textLength="4.50" lengthAdjust="spacingAndGlyphs">0</text>
<text x="217.43" y="386.70" textLength="4.50" lengthAdjust="spacingAndGlyphs">0</text>
<text x="237.19" y="386.70" textLength="4.50" lengthAdjust="spacingAndGlyphs">0</text>
<text x="256.95" y="386.70" textLength="4.50" lengthAdjust="spacingAndGlyphs">0</text>
<text x="276.71" y="386.70" textLength="4.50" lengthAdjust="spacingAndGlyphs">0</text>
<text x="296.48" y="386.70" textLength="4.50" lengthAdjust="spacingAndGlyphs">0</text>
<text x="316.24" y="386.70" textLength="4.50" lengthAdjust="spacingAndGlyphs">0</text>
<text x="336.00" y="386.70" textLength="4.50" lengthAdjust="spacingAndGlyphs">0</text>
<text x="355.76" y="386.70" textLength="4.50" lengthAdjust="spacingAndGlyphs">1</text>
<text x="375.52" y="386.70" textLength="4.50" lengthAdjust="spacingAndGlyphs">0</text>
<text x="395.29" y="386.70" textLength="4.50" lengthAdjust="spacingAndGlyphs">0</text>
<text x="415.05" y="386.70" textLength="4.50" lengthAdjust="spacingAndGlyphs">0</text>
<text x="434.81" y="386.70" textLength="4.50" lengthAdjust="spacingAndGlyphs">0</text>
<text x="454.57" y="386.70" textLength="4.50" lengthAdjust="spacingAndGlyphs">0</text>
<text x="474.33" y="386.70" textLength="4.50" lengthAdjust="spacingAndGlyphs">0</text>
<text x="494.10" y="386.70" textLength="4.50" lengthAdjust="spacingAndGlyphs">0</text>
<text x="513.86" y="386.70" textLength="13.50" lengthAdjust="spacingAndGlyphs">106</text>
<text x="533.62" y="386.70" textLength="4.50" lengthAdjust="spacingAndGlyphs">0</text>
<text x="138.38" y="405.70" textLength="4.50" lengthAdjust="spacingAndGlyphs">0</text>
<text x="158.14" y="405.70" textLength="4.50" lengthAdjust="spacingAndGlyphs">0</text>
<text x="177.90" y="405.70" textLength="4.50" lengthAdjust="spacingAndGlyphs">0</text>
<text x="197.67" y="405.70" textLength="4.50" lengthAdjust="spacingAndGlyphs">0</text>
<text x="217.43" y="405.70" textLength="4.50" lengthAdjust="spacingAndGlyphs">0</text>
<text x="237.19" y="405.70" textLength="4.50" lengthAdjust="spacingAndGlyphs">0</text>
<text x="256.95" y="405.70" textLength="4.50" lengthAdjust="spacingAndGlyphs">0</text>
<text x="276.71" y="405.70" textLength="4.50" lengthAdjust="spacingAndGlyphs">0</text>
<text x="296.48" y="405.70" textLength="4.50" lengthAdjust="spacingAndGlyphs">0</text>
<text x="316.24" y="405.70" textLength="4.50" lengthAdjust="spacingAndGlyphs">0</text>
<text x="336.00" y="405.70" textLength="4.50" lengthAdjust="spacingAndGlyphs">0</text>
<text x="355.76" y="405.70" textLength="4.50" lengthAdjust="spacingAndGlyphs">0</text>
<text x="375.52" y="405.70" textLength="4.50" lengthAdjust="spacingAndGlyphs">0</text>
<text x="395.29" y="405.70" textLength="4.50" lengthAdjust="spacingAndGlyphs">0</text>
<text x="415.05" y="405.70" textLength="4.50" lengthAdjust="spacingAndGlyphs">0</text>
<text x="434.81" y="405.70" textLength="4.50" lengthAdjust="spacingAndGlyphs">0</text>
<text x="454.57" y="405.70" textLength="4.50" lengthAdjust="spacingAndGlyphs">0</text>
<text x="474.33" y="405.70" textLength="4.50" lengthAdjust="spacingAndGlyphs">0</text>
<text x="494.10" y="405.70" textLength="4.50" lengthAdjust="spacingAndGlyphs">0</text>
<text x="513.86" y="405.70" textLength="4.50" lengthAdjust="spacingAndGlyphs">0</text>
<text x="533.62" y="405.70" textLength="4.50" lengthAdjust="spacingAndGlyphs">7</text>
</g>
<rect x="128.50" y="16.50" width="415.00" height="399.00" fill="none" stroke="#111" stroke-width="0.75"/>
<g stroke="#111" stroke-width="0.75">
<line x1="125.80" y1="26.00" x2="128.50" y2="26.00"/>
<line x1="125.80" y1="45.00" x2="128.50" y2="45.00"/>
<line x1="125.80" y1="64.00" x2="128.50" y2="64.00"/>
<line x1="125.80" y1="83.00" x2="128.50" y2="83.00"/>
<line x1="125.80" y1="102.00" x2="128.50" y2="102.00"/>
<line x1="125.80" y1="121.00" x2="128.50" y2="121.00"/>
<line x1="125.80" y1="140.00" x2="128.50" y2="140.00"/>
<line x1="125.80" y1="159.00" x2="128.50" y2="159.00"/>
<line x1="125.80" y1="178.00" x2="128.50" y2="178.00"/>
<line x1="125.80" y1="197.00" x2="128.50" y2="197.00"/>
<line x1="125.80" y1="216.00" x2="128.50" y2="216.00"/>
<line x1="125.80" y1="235.00" x2="128.50" y2="235.00"/>
<line x1="125.80" y1="254.00" x2="128.50" y2="254.00"/>
<line x1="125.80" y1="273.00" x2="128.50" y2="273.00"/>
<line x1="125.80" y1="292.00" x2="128.50" y2="292.00"/>
<line x1="125.80" y1="311.00" x2="128.50" y2="311.00"/>
<line x1="125.80" y1="330.00" x2="128.50" y2="330.00"/>
<line x1="125.80" y1="349.00" x2="128.50" y2="349.00"/>
<line x1="125.80" y1="368.00" x2="128.50" y2="368.00"/>
<line x1="125.80" y1="387.00" x2="128.50" y2="387.00"/>
<line x1="125.80" y1="406.00" x2="128.50" y2="406.00"/>
<line x1="138.38" y1="415.50" x2="138.38" y2="418.20"/>
<line x1="158.14" y1="415.50" x2="158.14" y2="418.20"/>
<line x1="177.90" y1="415.50" x2="177.90" y2="418.20"/>
<line x1="197.67" y1="415.50" x2="197.67" y2="418.20"/>
<line x1="217.43" y1="415.50" x2="217.43" y2="418.20"/>
<line x1="237.19" y1="415.50" x2="237.19" y2="418.20"/>
<line x1="256.95" y1="415.50" x2="256.95" y2="418.20"/>
<line x1="276.71" y1="415.50" x2="276.71" y2="418.20"/>
<line x1="296.48" y1="415.50" x2="296.48" y2="418.20"/>
<line x1="316.24" y1="415.50" x2="316.24" y2="418.20"/>
<line x1="336.00" y1="415.50" x2="336.00" y2="418.20"/>
<line x1="355.76" y1="415.50" x2="355.76" y2="418.20"/>
<line x1="375.52" y1="415.50" x2="375.52" y2="418.20"/>
<line x1="395.29" y1="415.50" x2="395.29" y2="418.20"/>
<line x1="415.05" y1="415.50" x2="415.05" y2="418.20"/>
<line x1="434.81" y1="415.50" x2="434.81" y2="418.20"/>
<line x1="454.57" y1="415.50" x2="454.57" y2="418.20"/>
<line x1="474.33" y1="415.50" x2="474.33" y2="418.20"/>
<line x1="494.10" y1="415.50" x2="494.10" y2="418.20"/>
<line x1="513.86" y1="415.50" x2="513.86" y2="418.20"/>
<line x1="533.62" y1="415.50" x2="533.62" y2="418.20"/>
</g>
<g font-size="8.80" text-anchor="end" fill="#000" stroke="#000" stroke-width="0.20">
<text x="122.20" y="29.20" textLength="76.80" lengthAdjust="spacingAndGlyphs">axilla_ctv_approved</text>
<text x="122.20" y="48.20" textLength="77.46" lengthAdjust="spacingAndGlyphs">axilla_ptv_approved</text>
<text x="122.20" y="67.20" textLength="60.52" lengthAdjust="spacingAndGlyphs">boost_structure</text>
<text x="122.20" y="86.20" textLength="80.79" lengthAdjust="spacingAndGlyphs">breast_ctv_approved</text>
<text x="122.20" y="105.20" textLength="81.44" lengthAdjust="spacingAndGlyphs">breast_ptv_approved</text>
<text x="122.20" y="124.20" textLength="92.67" lengthAdjust="spacingAndGlyphs">chestwall_ctv_approved</text>
<text x="122.20" y="143.20" textLength="93.33" lengthAdjust="spacingAndGlyphs">chestwall_ptv_approved</text>
<text x="122.20" y="162.20" textLength="103.53" lengthAdjust="spacingAndGlyphs">combined_lungs_approved</text>
<text x="122.20" y="181.20" textLength="77.27" lengthAdjust="spacingAndGlyphs">combined_structure</text>
<text x="122.20" y="200.20" textLength="90.18" lengthAdjust="spacingAndGlyphs">contralateral_approved</text>
<text x="122.20" y="219.20" textLength="65.91" lengthAdjust="spacingAndGlyphs">control_structure</text>
<text x="122.20" y="238.20" textLength="34.76" lengthAdjust="spacingAndGlyphs">execlude</text>
<text x="122.20" y="257.20" textLength="61.15" lengthAdjust="spacingAndGlyphs">heart_approved</text>
<text x="122.20" y="276.20" textLength="70.22" lengthAdjust="spacingAndGlyphs">imc_ctv_approved</text>
<text x="122.20" y="295.20" textLength="70.88" lengthAdjust="spacingAndGlyphs">imc_ptv_approved</text>
<text x="122.20" y="314.20" textLength="73.82" lengthAdjust="spacingAndGlyphs">left_lung_approved</text>
<text x="122.20" y="333.20" textLength="79.48" lengthAdjust="spacingAndGlyphs">right_lung_approved</text>
<text x="122.20" y="352.20" textLength="67.28" lengthAdjust="spacingAndGlyphs">scf_ctv_approved</text>
<text x="122.20" y="371.20" textLength="67.94" lengthAdjust="spacingAndGlyphs">scf_ptv_approved</text>
<text x="122.20" y="390.20" textLength="99.20" lengthAdjust="spacingAndGlyphs">tumourbed_ctv_approved</text>
<text x="122.20" y="409.20" textLength="99.86" lengthAdjust="spacingAndGlyphs">tumourbed_ptv_approved</text>
</g>
<g font-size="7.90" text-anchor="end" fill="#000" stroke="#000" stroke-width="0.20">
<text transform="translate(139.98 421.20) rotate(-90)" textLength="75.31" lengthAdjust="spacingAndGlyphs">axilla_ctv_approved</text>
<text transform="translate(159.74 421.20) rotate(-90)" textLength="75.96" lengthAdjust="spacingAndGlyphs">axilla_ptv_approved</text>
<text transform="translate(179.50 421.20) rotate(-90)" textLength="59.35" lengthAdjust="spacingAndGlyphs">boost_structure</text>
<text transform="translate(199.27 421.20) rotate(-90)" textLength="79.22" lengthAdjust="spacingAndGlyphs">breast_ctv_approved</text>
<text transform="translate(219.03 421.20) rotate(-90)" textLength="79.87" lengthAdjust="spacingAndGlyphs">breast_ptv_approved</text>
<text transform="translate(238.79 421.20) rotate(-90)" textLength="90.87" lengthAdjust="spacingAndGlyphs">chestwall_ctv_approved</text>
<text transform="translate(258.55 421.20) rotate(-90)" textLength="91.52" lengthAdjust="spacingAndGlyphs">chestwall_ptv_approved</text>
<text transform="translate(278.31 421.20) rotate(-90)" textLength="101.52" lengthAdjust="spacingAndGlyphs">combined_lungs_approved</text>
<text transform="translate(298.08 421.20) rotate(-90)" textLength="75.77" lengthAdjust="spacingAndGlyphs">combined_structure</text>
<text transform="translate(317.84 421.20) rotate(-90)" textLength="88.44" lengthAdjust="spacingAndGlyphs">contralateral_approved</text>
<text transform="translate(337.60 421.20) rotate(-90)" textLength="64.63" lengthAdjust="spacingAndGlyphs">control_structure</text>
<text transform="translate(357.36 421.20) rotate(-90)" textLength="34.09" lengthAdjust="spacingAndGlyphs">execlude</text>
<text transform="translate(377.12 421.20) rotate(-90)" textLength="59.97" lengthAdjust="spacingAndGlyphs">heart_approved</text>
<text transform="translate(396.89 421.20) rotate(-90)" textLength="68.86" lengthAdjust="spacingAndGlyphs">imc_ctv_approved</text>
<text transform="translate(416.65 421.20) rotate(-90)" textLength="69.51" lengthAdjust="spacingAndGlyphs">imc_ptv_approved</text>
<text transform="translate(436.41 421.20) rotate(-90)" textLength="72.39" lengthAdjust="spacingAndGlyphs">left_lung_approved</text>
<text transform="translate(456.17 421.20) rotate(-90)" textLength="77.94" lengthAdjust="spacingAndGlyphs">right_lung_approved</text>
<text transform="translate(475.93 421.20) rotate(-90)" textLength="65.98" lengthAdjust="spacingAndGlyphs">scf_ctv_approved</text>
<text transform="translate(495.70 421.20) rotate(-90)" textLength="66.63" lengthAdjust="spacingAndGlyphs">scf_ptv_approved</text>
<text transform="translate(515.46 421.20) rotate(-90)" textLength="97.28" lengthAdjust="spacingAndGlyphs">tumourbed_ctv_approved</text>
<text transform="translate(535.22 421.20) rotate(-90)" textLength="97.93" lengthAdjust="spacingAndGlyphs">tumourbed_ptv_approved</text>
</g>
<g fill="#000" stroke="#000" stroke-width="0.20">
<text x="335.40" y="12.00" font-size="10.50" text-anchor="middle" textLength="81.24" lengthAdjust="spacingAndGlyphs">Confusion matrix</text>
<text x="335.40" y="530.10" font-size="8.80" text-anchor="middle" textLength="57.59" lengthAdjust="spacingAndGlyphs">Predicted label</text>
<text transform="translate(11.80 216.00) rotate(-90)" font-size="8.60" text-anchor="middle" textLength="37.33" lengthAdjust="spacingAndGlyphs">True label</text>
</g>
</g></svg></body></html>
